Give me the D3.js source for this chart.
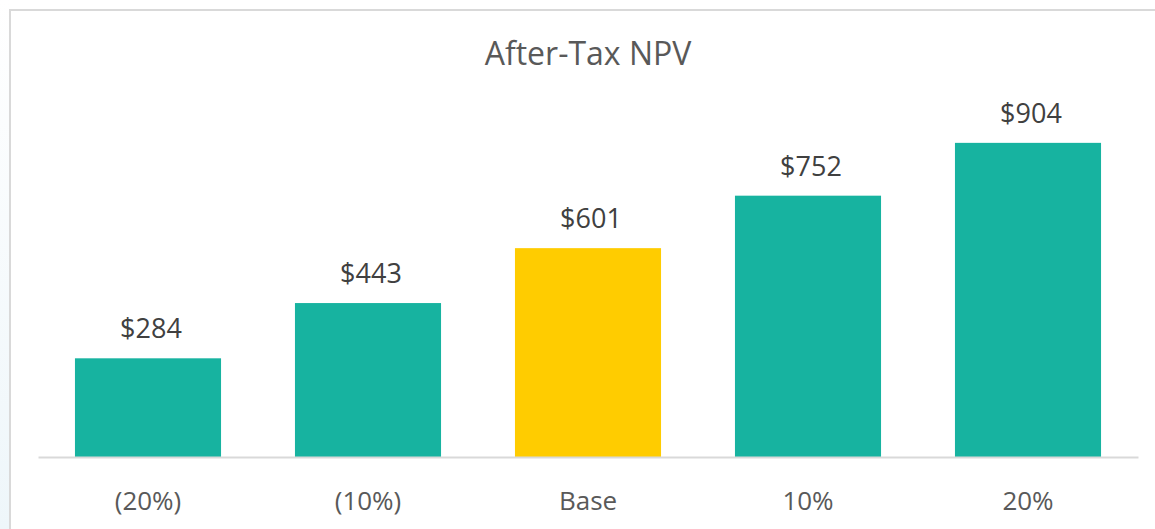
<!DOCTYPE html>
<html>
<head>
<meta charset="utf-8">
<script src="https://cdn.jsdelivr.net/npm/d3@7"></script>
<style>
  html, body { margin: 0; padding: 0; background: #fff; }
  svg { display: block; }
</style>
</head>
<body>
<div id="chart"></div>
<script>
const categories = ["(20%)", "(10%)", "Base", "10%", "20%"];
const values = [284, 443, 601, 752, 904];
const barColors = ["#17b3a0", "#17b3a0", "#ffcc00", "#17b3a0", "#17b3a0"];

const width = 1155, height = 529;

const svg = d3.select("#chart")
  .append("svg")
  .attr("width", width)
  .attr("height", height);

// faint tint outside the chart frame on the left
const defs = svg.append("defs");
const grad = defs.append("linearGradient")
  .attr("id", "edge").attr("x1", 0).attr("y1", 0).attr("x2", 0).attr("y2", 1);
grad.append("stop").attr("offset", "0%").attr("stop-color", "#ffffff");
grad.append("stop").attr("offset", "100%").attr("stop-color", "#eef6fa");
svg.append("rect").attr("x", 0).attr("y", 0).attr("width", 10).attr("height", height)
  .attr("fill", "url(#edge)");

// chart frame
svg.append("rect")
  .attr("x", 10).attr("y", 10)
  .attr("width", width + 20).attr("height", height + 20)
  .attr("fill", "#fff")
  .attr("stroke", "#d9d9d9")
  .attr("stroke-width", 2);

const x = d3.scaleBand()
  .domain(categories)
  .range([38, 1138])
  .paddingInner(0.336)
  .paddingOuter(0.168);

const y = d3.scaleLinear()
  .domain([0, 1000])
  .range([457, 109.5]);

svg.append("text")
  .attr("x", 588)
  .attr("y", 65)
  .attr("text-anchor", "middle")
  .attr("font-family", "'Open Sans', sans-serif")
  .attr("font-size", 32)
  .attr("fill", "#595959")
  .text("After-Tax NPV");

svg.append("g")
  .selectAll("rect")
  .data(values)
  .join("rect")
  .attr("x", (d, i) => x(categories[i]))
  .attr("y", d => y(d))
  .attr("width", x.bandwidth())
  .attr("height", d => y(0) - y(d))
  .attr("fill", (d, i) => barColors[i]);

svg.append("g")
  .selectAll("text")
  .data(values)
  .join("text")
  .attr("x", (d, i) => x(categories[i]) + x.bandwidth() / 2 + 3)
  .attr("y", d => y(d) - 20)
  .attr("text-anchor", "middle")
  .attr("font-family", "'Open Sans', sans-serif")
  .attr("font-size", 27)
  .attr("fill", "#404040")
  .text(d => "$" + d);

const xAxis = svg.append("g")
  .attr("transform", `translate(0,${y(0)})`)
  .call(d3.axisBottom(x).tickSize(0));

xAxis.select(".domain").attr("stroke", "#d9d9d9").attr("stroke-width", 2);
xAxis.selectAll("text")
  .attr("y", 53)
  .attr("dy", 0)
  .attr("font-family", "'Open Sans', sans-serif")
  .attr("font-size", 26)
  .attr("fill", "#595959");
</script>
</body>
</html>
